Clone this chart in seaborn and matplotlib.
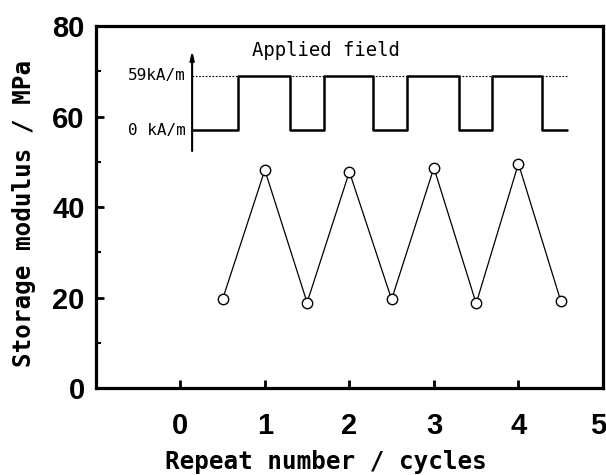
import matplotlib
matplotlib.use("Agg")
import matplotlib.pyplot as plt
import matplotlib.transforms as mtransforms
import seaborn as sns
import numpy as np
import pandas as pd
from matplotlib.ticker import MultipleLocator

# ---- data ----
repeat = [0.5, 1.0, 1.5, 2.0, 2.5, 3.0, 3.5, 4.0, 4.5]
modulus = [19.6, 48.2, 18.9, 47.8, 19.6, 48.7, 18.7, 49.6, 19.3]

# applied field square wave (switching times in cycles, state 0 = 0 kA/m, 1 = 59 kA/m)
field_switch = [0.14, 0.68, 1.30, 1.70, 2.28, 2.68, 3.30, 3.69, 4.28, 4.57]
field_state = [0, 1, 0, 1, 0, 1, 0, 1, 0]
field_labels = ["0 kA/m", "59kA/m"]

x_ticks = [0, 1, 2, 3, 4, 5]
y_ticks = [0, 20, 40, 60, 80]

sns.set_style("ticks")
plt.rcParams["font.family"] = ["DejaVu Sans"]
for k in ["text.color", "axes.edgecolor", "axes.labelcolor", "xtick.color", "ytick.color"]:
    plt.rcParams[k] = "black"

fig = plt.figure(figsize=(6.06, 4.75), dpi=100)
ax = fig.add_axes([0.158, 0.183, 0.837, 0.762])

df = pd.DataFrame({"repeat": repeat, "modulus": modulus})
sns.lineplot(data=df, x="repeat", y="modulus", ax=ax, color="black", lw=0.9,
             marker="o", markersize=7.5, markerfacecolor="white",
             markeredgecolor="black", markeredgewidth=1.0)

# inset: applied field schematic (drawn in data coordinates)
low_y, high_y = 57.0, 69.0
lvl = [low_y, high_y]
xs, ys = [], []
for i, s in enumerate(field_state):
    xs += [field_switch[i], field_switch[i + 1]]
    ys += [lvl[s], lvl[s]]
wave = pd.DataFrame({"t": xs, "f": ys})
sns.lineplot(data=wave, x="t", y="f", sort=False, ax=ax, color="black", lw=1.8,
             estimator=None)
ax.plot([field_switch[0], field_switch[-1]], [high_y, high_y], color="black",
        lw=0.8, ls=(0, (1.5, 1.5)), zorder=1)
ax.annotate("", xy=(field_switch[0], 74.6), xytext=(field_switch[0], 52.4),
            arrowprops=dict(arrowstyle="-|>,head_length=0.5,head_width=0.12",
                            color="black", lw=1.5, shrinkA=0, shrinkB=0))
mono = ["DejaVu Sans Mono"]
ax.text(field_switch[0] - 0.08, low_y, field_labels[0], ha="right", va="center",
        fontsize=11.5, family=mono)
ax.text(field_switch[0] - 0.08, high_y, field_labels[1], ha="right", va="center",
        fontsize=11.5, family=mono)
ax.text(1.72, 74.6, "Applied field", ha="center", va="center", fontsize=13.6,
        family=mono)

ax.set_xlim(-1, 5)
ax.set_ylim(0, 80)
ax.set_xticks(x_ticks)
ax.set_yticks(y_ticks)
ax.yaxis.set_minor_locator(MultipleLocator(10))
ax.tick_params(axis="both", which="major", direction="in", length=6, width=2,
               labelsize=21)
ax.tick_params(axis="y", which="minor", direction="in", length=3.5, width=1.5)
ax.tick_params(axis="x", pad=17)
ax.tick_params(axis="y", pad=8)
for lab in ax.get_xticklabels() + ax.get_yticklabels():
    lab.set_fontweight("bold")
    lab.set_family(["Liberation Sans"])
# keep the last x tick label (at the right spine) inside the figure
last = ax.get_xticklabels()[-1]
last.set_transform(last.get_transform() +
                   mtransforms.ScaledTranslation(-5 / 100, 0, fig.dpi_scale_trans))
for sp in ax.spines.values():
    sp.set_visible(True)
    sp.set_linewidth(2.3)
ax.set_xlabel("Repeat number / cycles", fontsize=17.5, family=mono,
              fontweight="bold")
ax.set_ylabel("Storage modulus / MPa", fontsize=17.5, family=mono,
              fontweight="bold")
ax.xaxis.set_label_coords(0.454, -0.17)
ax.yaxis.set_label_coords(-0.118, 0.483)
ax.grid(False)

fig.savefig("out.png", dpi=100)
